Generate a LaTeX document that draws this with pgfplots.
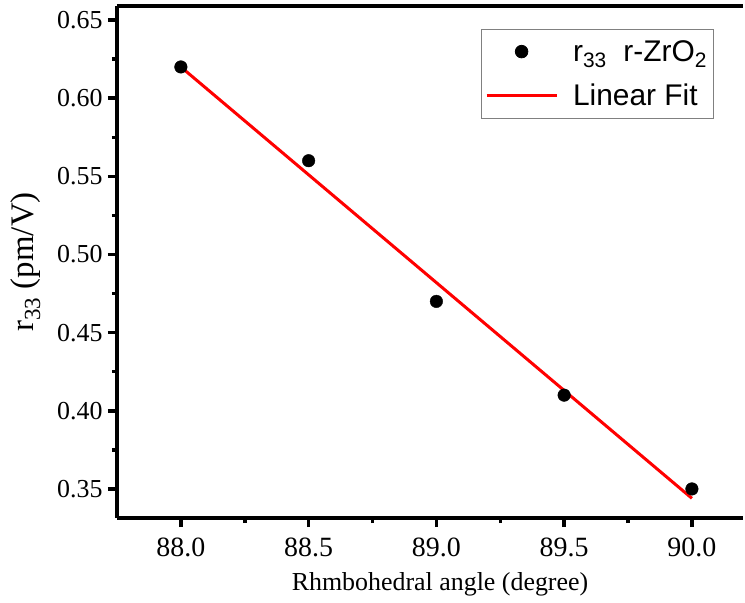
\documentclass[border=0pt]{standalone}
\usepackage{pgfplots}
\pgfplotsset{compat=1.18}
\usepackage{fontspec}
\setmainfont{Liberation Serif}
\newfontfamily\arial{Liberation Sans}

\begin{document}
\begin{tikzpicture}
\begin{axis}[
    name=ax,
    scale only axis,
    width=626bp, height=512bp,
    xmin=87.75, xmax=90.2,
    ymin=0.3314, ymax=0.659,
    separate axis lines,
    axis x line=box, axis y line=left,
    axis line style={line width=3.5bp, -},
    xtick={88,88.5,...,90}, ytick={0.35,0.40,...,0.65},
    minor x tick num=1, minor y tick num=1,
    xtick pos=bottom, ytick pos=left,
    tick align=outside,
    major tick length=9bp, minor tick length=5bp,
    major tick style={black, line width=3.5bp},
    minor tick style={black, line width=3.5bp},
    /pgf/number format/assume math mode=true,
    xticklabel style={font=\fontsize{28}{28}\selectfont, yshift=-7bp,
        /pgf/number format/fixed, /pgf/number format/fixed zerofill,
        /pgf/number format/precision=1},
    yticklabel style={font=\fontsize{26}{26}\selectfont, xshift=-2bp,
        /pgf/number format/fixed, /pgf/number format/fixed zerofill,
        /pgf/number format/precision=2},
    xlabel={Rhmbohedral angle (degree)},
    xlabel style={font=\fontsize{26}{26}\selectfont, at={(ticklabel cs:0.516)}, anchor=north, yshift=-9bp},
    ylabel={r\textsubscript{33} (pm/V)},
    ylabel style={font=\fontsize{33}{33}\selectfont, yshift=10bp},
    legend style={at={(0.581,0.955)}, anchor=north west, draw=gray, line width=0.8bp,
        font=\arial\fontsize{30}{32}\selectfont, inner xsep=4bp, inner ysep=9bp,
        row sep=17bp, /tikz/every odd column/.append style={column sep=13bp}},
    legend cell align=left,
    legend image code/.code={\draw[mark repeat=2, mark phase=2, #1] plot coordinates {(0bp,0bp) (35bp,0bp) (70bp,0bp)};},
]
\addplot[only marks, mark=*, mark size=6.3bp, black] coordinates {
    (88.0,0.62) (88.5,0.56) (89.0,0.47) (89.5,0.41) (90.0,0.35)
};
\addlegendentry{r\textsubscript{33}\ \ r-ZrO\textsubscript{2}}
\addplot[red, line width=3bp, no marks] coordinates {
    (88.0,0.620) (90.0,0.344)
};
\addlegendentry{Linear Fit}
\end{axis}
\pgfresetboundingbox
\path[use as bounding box] (ax.south west) ++(-117bp,-85bp) rectangle ([xshift=2bp,yshift=6bp]ax.north east);
\end{tikzpicture}
\end{document}
